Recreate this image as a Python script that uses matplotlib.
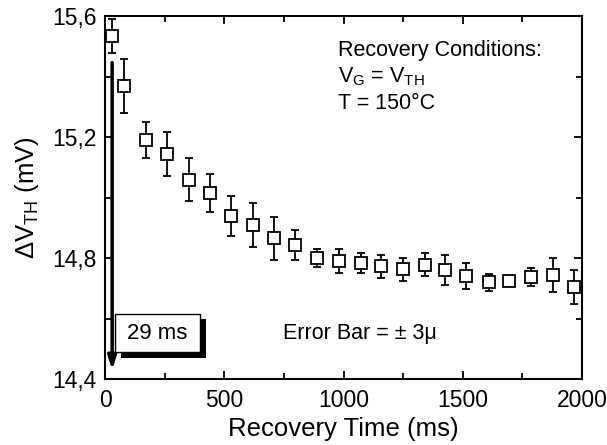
import numpy as np
import matplotlib.pyplot as plt
from matplotlib.patches import Rectangle

plt.rcParams['font.family'] = ['Liberation Sans', 'DejaVu Sans']
plt.rcParams['mathtext.fontset'] = 'custom'
plt.rcParams['mathtext.rm'] = 'Liberation Sans'

# recovery time (ms), delta Vth (mV), error half-width (mV)
t_ms = [29, 80, 172, 260, 352, 440, 528, 620, 708, 797, 888, 981, 1073,
        1157, 1250, 1342, 1426, 1514, 1610, 1694, 1786, 1878, 1966]
dvth = [15.534, 15.369, 15.19, 15.144, 15.058, 15.015, 14.939, 14.909,
        14.866, 14.843, 14.80, 14.79, 14.783, 14.773, 14.763, 14.777,
        14.76, 14.74, 14.72, 14.724, 14.737, 14.744, 14.704]
err = [0.055, 0.09, 0.058, 0.073, 0.071, 0.063, 0.066, 0.073, 0.071,
       0.048, 0.031, 0.041, 0.033, 0.038, 0.038, 0.038, 0.05, 0.043,
       0.028, 0.0, 0.03, 0.055, 0.055]

fig = plt.figure(figsize=(6.07, 4.45), dpi=100)
ax = fig.add_axes([105/607, 1-379/445, 477/607, 363/445])

ax.errorbar(t_ms, dvth, yerr=err, fmt='s', mfc='white', mec='black',
            mew=1.3, ms=8, ecolor='black', elinewidth=1.3, capsize=3,
            capthick=1.3)

ax.set_xlim(0, 2000)
ax.set_ylim(14.4, 15.6)
ax.set_xticks([0, 500, 1000, 1500, 2000])
ax.set_xticks(np.arange(0, 2001, 250), minor=True)
ax.set_yticks([14.4, 14.8, 15.2, 15.6])
ax.set_yticks(np.arange(14.4, 15.61, 0.2), minor=True)
ax.set_yticklabels(['14,4', '14,8', '15,2', '15,6'])
ax.tick_params(which='both', direction='in', top=True, right=True,
               width=1.3, labelsize=16.5)
ax.tick_params(which='major', length=6)
ax.tick_params(which='minor', length=4)
ax.tick_params(axis='y', pad=6)
ax.tick_params(axis='x', pad=7)
for s in ax.spines.values():
    s.set_linewidth(1.5)

ax.set_xlabel('Recovery Time (ms)', fontsize=18.5, labelpad=4)
ax.set_ylabel('ΔV$_{\\mathregular{TH}}$ (mV)', fontsize=18.5, labelpad=8)

# arrow marking the first measurement
ax.annotate('', xy=(30, 14.42), xytext=(30, 15.455),
            arrowprops=dict(arrowstyle='-|>,head_width=0.25,head_length=0.8',
                            color='black', lw=2.5))

# "29 ms" box with a shadow
ax.add_patch(Rectangle((66, 14.471), 356, 0.126, transform=ax.transData,
                       facecolor='black', edgecolor='none', zorder=3))
ax.add_patch(Rectangle((42, 14.489), 356, 0.126, transform=ax.transData,
                       facecolor='white', edgecolor='black', lw=1.0, zorder=4))
ax.text(218, 14.552, '29 ms', fontsize=16, ha='center', va='center', zorder=5)

ax.text(975, 15.487, 'Recovery Conditions:', fontsize=15.5, va='center')
ax.text(975, 15.40, r'V$_{\mathregular{G}}$ = V$_{\mathregular{TH}}$',
        fontsize=15.5, va='center')
ax.text(975, 15.31, 'T = 150°C', fontsize=15.5, va='center')
ax.text(745, 14.552, 'Error Bar = ± 3μ', fontsize=15.5, va='center')

fig.savefig('out.png', dpi=100)
